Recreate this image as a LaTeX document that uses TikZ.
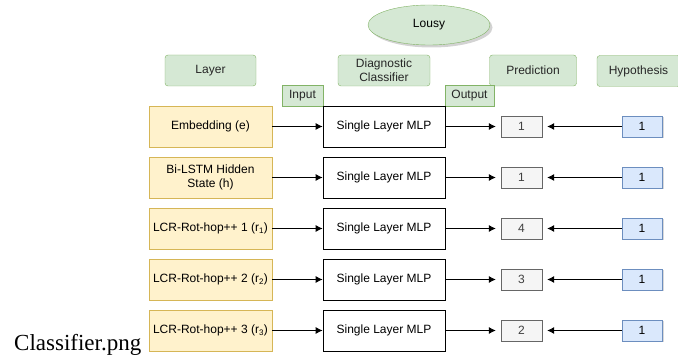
\documentclass[tikz,border=0pt]{standalone}
\usepackage{fontspec}
\setmainfont{Liberation Sans}
\newfontfamily\capfont{Liberation Serif}
\usetikzlibrary{arrows.meta,shadows,shapes.geometric}
\definecolor{hdrfill}{HTML}{D5E8D4}
\definecolor{hdrline}{HTML}{82B366}
\definecolor{layfill}{HTML}{FFF2CC}
\definecolor{layline}{HTML}{D6B656}
\definecolor{hypfill}{HTML}{DAE8FC}
\definecolor{hypline}{HTML}{6C8EBF}
\definecolor{prdfill}{HTML}{F5F5F5}
\definecolor{prdline}{HTML}{666666}
\tikzset{
  header/.style={draw=hdrline, fill=hdrfill, rounded corners=3pt, minimum height=31pt, align=center, text=black!85},
  tag/.style={draw=hdrline, fill=hdrfill, minimum height=21pt, inner sep=2pt, text=black!85},
  layerbox/.style={draw=layline, fill=layfill, minimum width=123pt, minimum height=41pt, align=center},
  mlp/.style={draw, thick, minimum width=122pt, minimum height=41pt},
  pred/.style={draw=prdline, fill=prdfill, text=black!75, minimum width=41pt, minimum height=21pt},
  hyp/.style={draw=hypline, fill=hypfill, minimum width=40pt, minimum height=21pt,
    drop shadow={shadow xshift=1.5pt, shadow yshift=-1.5pt, opacity=0.3}},
}
\begin{document}
\begin{tikzpicture}[x=1pt, y=-1pt, font=\fontsize{12}{14}\selectfont, inner sep=0pt]
  \useasboundingbox (0,0) rectangle (678,358);
  % top labels
  \node[ellipse, draw=hdrline, fill=hdrfill, minimum width=122pt, minimum height=40pt,
    drop shadow={shadow xshift=2.5pt, shadow yshift=-2.5pt, opacity=0.35}] (lousy) at (429,25) {Lousy};
  \node[header, minimum width=91pt] (layer) at (210.5,70.5) {Layer};
  \node[header, minimum width=92pt] (diag) at (384,70.5) {Diagnostic\\Classifier};
  \node[header, minimum width=87pt] (predh) at (533,70.5) {Prediction};
  \node[header, minimum width=83pt] (hyph) at (638.5,71) {Hypothesis};
  \node[tag, minimum width=41pt] (input) at (302.5,95.5) {Input};
  \node[tag, minimum width=49pt] (output) at (469.5,95.5) {Output};
  % layers
  \node[layerbox] (l1) at (210.5,126.5) {Embedding (e)};
  \node[layerbox] (l2) at (210.5,177.5) {Bi-LSTM Hidden\\State (h)};
  \node[layerbox] (l3) at (210.5,228.5) {LCR-Rot-hop++ 1 (r\textsubscript{1})};
  \node[layerbox] (l4) at (210.5,279.5) {LCR-Rot-hop++ 2 (r\textsubscript{2})};
  \node[layerbox] (l5) at (210.5,330.5) {LCR-Rot-hop++ 3 (r\textsubscript{3})};
  % classifiers
  \node[mlp] (m1) at (384,126.5) {Single Layer MLP};
  \node[mlp] (m2) at (384,177.5) {Single Layer MLP};
  \node[mlp] (m3) at (384,228.5) {Single Layer MLP};
  \node[mlp] (m4) at (384,279.5) {Single Layer MLP};
  \node[mlp] (m5) at (384,330.5) {Single Layer MLP};
  % predictions
  \node[pred] (p1) at (521.5,126.5) {1};
  \node[pred] (p2) at (521.5,177.5) {1};
  \node[pred] (p3) at (521.5,228.5) {4};
  \node[pred] (p4) at (521.5,279.5) {3};
  \node[pred] (p5) at (521.5,330.5) {2};
  % hypotheses
  \node[hyp] (h1) at (642,126.5) {1};
  \node[hyp] (h2) at (642,177.5) {1};
  \node[hyp] (h3) at (642,228.5) {1};
  \node[hyp] (h4) at (642,279.5) {1};
  \node[hyp] (h5) at (642,330.5) {1};
  \node[font=\capfont\fontsize{23}{25}\selectfont, anchor=base west] (cap) at (14,350) {Classifier.png};
  \begin{scope}[-{Latex[length=7pt,width=7pt]}, thick]
    \draw (l1) to (m1);
    \draw (l2) to (m2);
    \draw (l3) to (m3);
    \draw (l4) to (m4);
    \draw (l5) to (m5);
    \draw[shorten >=5pt] (m1) to (p1);
    \draw[shorten >=5pt] (m2) to (p2);
    \draw[shorten >=5pt] (m3) to (p3);
    \draw[shorten >=5pt] (m4) to (p4);
    \draw[shorten >=5pt] (m5) to (p5);
    \draw[shorten >=5pt] (h1) to (p1);
    \draw[shorten >=5pt] (h2) to (p2);
    \draw[shorten >=5pt] (h3) to (p3);
    \draw[shorten >=5pt] (h4) to (p4);
    \draw[shorten >=5pt] (h5) to (p5);
  \end{scope}
\end{tikzpicture}
\end{document}
